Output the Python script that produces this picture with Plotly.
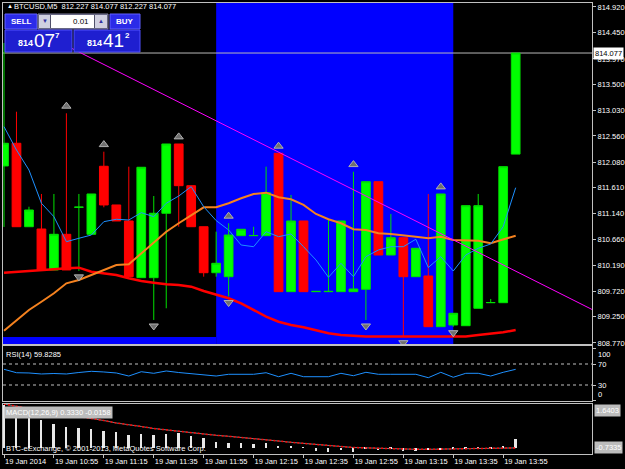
import plotly.graph_objects as go

W, H = 625, 469
FONT = "Liberation Sans"
FS = 7.5

# ---------------- data ----------------
bars = list(range(42))
opens = [812.010, 812.425, 810.898, 810.856, 810.106, 810.759, 811.253, 810.759, 812.004, 811.296,
         811.003, 809.965, 809.965, 811.144, 812.412, 811.649, 810.898, 810.056, 809.983, 810.734,
         810.734, 810.734, 812.242, 809.709, 811.003, 809.709, 809.709, 809.709, 809.709, 809.753,
         811.722, 810.380, 810.697, 809.983, 809.996, 809.068, 809.099, 809.086, 809.405, 809.507,
         809.507, 812.227]
highs = [814.261, 813.003, 811.264, 811.497, 811.497, 812.974, 811.497, 811.497, 812.271, 811.296,
         811.997, 811.986, 811.460, 812.412, 812.412, 811.649, 810.898, 810.807, 810.961, 810.851,
         810.898, 811.997, 812.242, 811.479, 811.003, 809.716, 811.021, 811.003, 811.905, 811.722,
         811.722, 811.131, 810.697, 810.503, 811.497, 811.497, 809.313, 811.283, 811.497, 809.575,
         811.997, 814.077]
lows = [810.893, 810.898, 810.898, 810.106, 810.106, 810.106, 810.090, 810.759, 811.253, 811.003,
        809.983, 809.965, 809.191, 809.405, 810.898, 810.898, 809.983, 809.983, 809.620, 810.734,
        810.734, 810.734, 809.709, 809.709, 809.709, 809.709, 809.709, 809.709, 809.709, 809.191,
        810.380, 810.380, 808.885, 809.983, 809.068, 809.068, 809.068, 809.086, 809.405, 809.507,
        809.507, 812.227]
closes = [812.425, 810.898, 811.204, 810.106, 810.759, 810.106, 811.256, 811.497, 811.296, 811.003,
          809.983, 811.986, 811.144, 812.412, 811.649, 810.898, 810.056, 810.228, 810.746, 810.851,
          810.737, 811.521, 809.709, 811.003, 809.709, 809.714, 809.714, 811.003, 809.758, 811.722,
          810.380, 810.697, 809.983, 810.503, 809.068, 811.497, 809.313, 811.283, 811.283, 809.510,
          811.997, 814.077]

ma_fast = [812.729, 812.302, 811.936, 811.327, 811.081, 810.624, 810.686, 810.746, 810.990, 811.034,
           811.021, 811.155, 811.081, 811.327, 811.460, 811.631, 811.264, 811.010, 810.838, 810.563,
           810.532, 810.807, 810.715, 810.765, 810.532, 810.289, 809.972, 810.228, 809.983, 810.349,
           810.472, 810.532, 810.532, 810.668, 810.152, 810.349, 810.087, 810.380, 810.503, 810.582,
           810.898, 811.612]
ma_mid = [808.995, 809.190, 809.374, 809.525, 809.679, 809.862, 809.923, 810.014, 810.106, 810.197,
          810.210, 810.411, 810.595, 810.807, 810.961, 811.113, 811.253, 811.253, 811.327, 811.418,
          811.497, 811.521, 811.437, 811.400, 811.296, 811.131, 811.034, 810.961, 810.851, 810.838,
          810.778, 810.765, 810.734, 810.715, 810.686, 810.715, 810.655, 810.655, 810.642, 810.595,
          810.668, 810.734]
ma_slow = [810.056, 810.069, 810.087, 810.106, 810.119, 810.137, 810.148, 810.075, 810.045, 810.014,
           809.954, 809.904, 809.873, 809.844, 809.831, 809.800, 809.721, 809.648, 809.588, 809.496,
           809.374, 809.251, 809.159, 809.099, 809.057, 809.007, 808.947, 808.916, 808.898, 808.889,
           808.889, 808.889, 808.889, 808.889, 808.889, 808.889, 808.889, 808.889, 808.916, 808.934,
           808.965, 809.007]

rsi = [59.9, 53.4, 52.9, 51.0, 51.9, 51.0, 53.8, 56.1, 54.8, 52.9,
       47.1, 55.3, 52.3, 56.7, 53.8, 51.9, 49.0, 47.1, 50.4, 50.4,
       50.4, 53.4, 45.8, 52.3, 45.8, 45.8, 45.8, 52.3, 47.7, 54.2,
       50.4, 50.4, 50.4, 50.4, 43.9, 54.2, 44.7, 52.3, 52.3, 47.1,
       54.2, 59.83]
rsi_levels = [70, 30]

macd_hist = [1.60, 1.48, 1.42, 1.04, 0.89, 0.77, 0.74, 0.70, 0.62, 0.58,
             0.47, 0.51, 0.47, 0.51, 0.55, 0.43, 0.35, 0.22, 0.17, 0.17,
             0.13, 0.17, 0.06, 0.07, -0.01, -0.12, -0.17, -0.09, -0.17, -0.05,
             -0.10, -0.06, -0.12, -0.15, -0.08, -0.10, -0.04, -0.06, -0.02, -0.04,
             0.02, 0.333]
macd_signal = [1.642, 1.547, 1.472, 1.396, 1.321, 1.253, 1.189, 1.113, 1.019, 0.925,
               0.868, 0.792, 0.717, 0.660, 0.604, 0.547, 0.509, 0.460, 0.423, 0.385,
               0.340, 0.294, 0.245, 0.196, 0.151, 0.113, 0.075, 0.038, 0.000, -0.019,
               -0.030, -0.045, -0.057, -0.068, -0.068, -0.057, -0.049, -0.038, -0.030, -0.019,
               -0.011, -0.0158]

price_tick_labels = ["814.920", "814.450", "813.970", "813.500", "813.030", "812.560", "812.080",
                     "811.610", "811.140", "810.660", "810.190", "809.720", "809.250", "808.770"]
price_tick_values = [float(t) for t in price_tick_labels]
time_tick_bars = [0, 4, 8, 12, 16, 20, 24, 28, 32, 36, 40]
time_tick_labels = ["19 Jan 2014", "19 Jan 10:55", "19 Jan 11:15", "19 Jan 11:35", "19 Jan 11:55",
                    "19 Jan 12:15", "19 Jan 12:35", "19 Jan 12:55", "19 Jan 13:15", "19 Jan 13:35",
                    "19 Jan 13:55"]

up_fractals = [5, 8, 14, 18, 22, 28, 35]
down_fractals = [6, 12, 18, 29, 32, 36]

trend_x = [3, 47.3]
trend_y = [814.441, 809.362]
bid_price = 814.077
highlight_bars = [17, 36]
zone_top = 808.88

# ---------------- geometry ----------------
X_RANGE = [-0.08, 47.116]
MAIN_RANGE = [808.751, 815.002]
RSI_RANGE = [-0.48, 104.3]
MACD_RANGE = [-0.2453, 1.6415]

def py(p):
    return 1 - p / H

def pxx(p):
    return p / W

GRID = "#c0c0c0"

fig = go.Figure()

fig.add_trace(go.Candlestick(
    x=bars, open=opens, high=highs, low=lows, close=closes,
    increasing=dict(fillcolor="#00ff00", line=dict(color="#00e000", width=1)),
    decreasing=dict(fillcolor="#ff0000", line=dict(color="#ff0000", width=1)),
    whiskerwidth=0, xaxis="x", yaxis="y", showlegend=False, hoverinfo="skip"))

fig.add_trace(go.Scatter(x=bars, y=ma_slow, mode="lines", line=dict(color="#ff0000", width=2.5),
                         xaxis="x", yaxis="y", showlegend=False, hoverinfo="skip"))
fig.add_trace(go.Scatter(x=bars, y=ma_mid, mode="lines", line=dict(color="#f5821f", width=2),
                         xaxis="x", yaxis="y", showlegend=False, hoverinfo="skip"))
fig.add_trace(go.Scatter(x=bars, y=ma_fast, mode="lines", line=dict(color="#1e90ff", width=1),
                         xaxis="x", yaxis="y", showlegend=False, hoverinfo="skip"))
fig.add_trace(go.Scatter(x=trend_x, y=trend_y, mode="lines", line=dict(color="#ff00ff", width=1),
                         xaxis="x", yaxis="y", showlegend=False, hoverinfo="skip"))

fig.add_trace(go.Scatter(
    x=up_fractals, y=[highs[i] + 0.13 for i in up_fractals], mode="markers",
    marker=dict(symbol="triangle-up", size=8, color="#707070", line=dict(color="#b0b0b0", width=1)),
    xaxis="x", yaxis="y", showlegend=False, hoverinfo="skip"))
fig.add_trace(go.Scatter(
    x=down_fractals, y=[lows[i] - 0.11 for i in down_fractals], mode="markers",
    marker=dict(symbol="triangle-down", size=8, color="#707070", line=dict(color="#b0b0b0", width=1)),
    xaxis="x", yaxis="y", showlegend=False, hoverinfo="skip"))

# RSI
fig.add_trace(go.Scatter(x=bars, y=rsi, mode="lines", line=dict(color="#1e90ff", width=1),
                         xaxis="x2", yaxis="y2", showlegend=False, hoverinfo="skip"))

# MACD
fig.add_trace(go.Bar(x=bars, y=macd_hist, width=0.15, marker=dict(color="#e8e8e8", line=dict(width=0)),
                     xaxis="x3", yaxis="y3", showlegend=False, hoverinfo="skip"))
fig.add_trace(go.Scatter(x=bars, y=macd_signal, mode="lines", line=dict(color="#ffffff", width=1),
                         opacity=0.5, xaxis="x3", yaxis="y3", showlegend=False, hoverinfo="skip"))
fig.add_trace(go.Scatter(x=bars, y=macd_signal, mode="lines", line=dict(color="#ff0000", width=1.5, dash="2px,2px"),
                         xaxis="x3", yaxis="y3", showlegend=False, hoverinfo="skip"))

xd = [pxx(3), pxx(592)]
base_x = dict(range=X_RANGE, domain=xd, showgrid=False, zeroline=False, showline=True, mirror=True,
              linecolor=GRID, linewidth=1, fixedrange=True, automargin=False, tickangle=0)
base_y = dict(showgrid=False, zeroline=False, showline=True, mirror=True, linecolor=GRID,
              linewidth=1, side="right", fixedrange=True, automargin=False)

shapes = []
shapes.append(dict(type="rect", xref="x", yref="y domain", x0=highlight_bars[0], x1=highlight_bars[1],
                   y0=0, y1=1, fillcolor="#0000ff", line=dict(width=0), layer="below"))
shapes.append(dict(type="rect", xref="x", yref="y", x0=X_RANGE[0], x1=highlight_bars[0],
                   y0=MAIN_RANGE[0], y1=zone_top, fillcolor="#0000ff", line=dict(width=0), layer="below"))
shapes.append(dict(type="line", xref="x domain", yref="y", x0=0, x1=1, y0=bid_price, y1=bid_price,
                   line=dict(color="#b8b8b8", width=1), layer="below"))
for lv in rsi_levels:
    shapes.append(dict(type="line", xref="x2 domain", yref="y2", x0=0, x1=1, y0=lv, y1=lv,
                       line=dict(color="#c0c0c0", width=1, dash="dot")))

def rect(x0, y0, x1, y1, fill, lc=None, lw=0):
    return dict(type="rect", xref="paper", yref="paper", x0=pxx(x0), x1=pxx(x1), y0=py(y1), y1=py(y0),
                fillcolor=fill, line=dict(color=lc or fill, width=lw), layer="above")

# one-click trading panel
shapes += [
    rect(5, 14, 37, 29, "#2b2be8", "#6060ff", 1),
    rect(38, 14, 108, 29, "#50506a", "#8080a0", 1),
    rect(39, 15, 50, 28, "#d0d0e0"),
    rect(51, 15, 94, 28, "#ffffff"),
    rect(95, 15, 107, 28, "#d0d0e0"),
    rect(110, 14, 140, 29, "#2b2be8", "#6060ff", 1),
    rect(5, 30, 72, 52, "#1f1fd0", "#5050ff", 1),
    rect(74, 30, 140, 52, "#1f1fd0", "#5050ff", 1),
]

annotations = []

def ann(x, y, text, size=FS, color="#ffffff", xanchor="left", yanchor="middle", bg=None, xref="paper",
        yref="paper", bold=False):
    d = dict(x=x, y=y, xref=xref, yref=yref, text=("<b>%s</b>" % text) if bold else text,
             showarrow=False, xanchor=xanchor, yanchor=yanchor,
             font=dict(family=FONT, size=size, color=color), borderpad=1)
    if bg:
        d["bgcolor"] = bg
    return d

annotations += [
    ann(pxx(5), py(6.5), "▲", size=6),
    ann(pxx(12), py(6.5), "BTCUSD,M5  812.227 814.077 812.227 814.077"),
    ann(pxx(21), py(21.5), "SELL", size=8, xanchor="center", bold=True),
    ann(pxx(125), py(21.5), "BUY", size=8, xanchor="center", bold=True),
    ann(pxx(44.5), py(21.5), "▼", size=6, color="#3030a0", xanchor="center"),
    ann(pxx(101), py(21.5), "▲", size=6, color="#3030a0", xanchor="center"),
    ann(pxx(91), py(21.5), "0.01", size=8, color="#000000", xanchor="right"),
    ann(pxx(16), py(43), "814", size=9, bold=True),
    ann(pxx(32), py(41), "07", size=19),
    ann(pxx(53), py(35), "7", size=8, bold=True),
    ann(pxx(85), py(43), "814", size=9, bold=True),
    ann(pxx(101), py(41), "41", size=19),
    ann(pxx(123), py(35), "2", size=8, bold=True),
    ann(pxx(593), bid_price, "814.077", color="#000000", bg="#ffffff", yref="y"),
    ann(pxx(4), py(354), "RSI(14) 59.8285"),
    ann(pxx(596), 100, "100", yref="y2", yanchor="top"),
    ann(pxx(596), 70, "70", yref="y2"),
    ann(pxx(596), 30, "30", yref="y2"),
    ann(pxx(596), 0, "0", yref="y2", yanchor="bottom"),
    ann(pxx(4), py(406), "MACD(12,26,9) 0.3330 -0.0158", bg="#bcbcbc", yanchor="top"),
    ann(pxx(594), MACD_RANGE[1], "1.6403", bg="#bcbcbc", yref="y3", yanchor="top"),
    ann(pxx(594), MACD_RANGE[0], "-0.7335", bg="#bcbcbc", yref="y3", yanchor="bottom"),
    ann(pxx(4), py(448.5), "BTC-eExchange, © 2001-2013, MetaQuotes Software Corp."),
]

fig.update_layout(
    width=W, height=H, margin=dict(l=0, r=0, t=0, b=0, autoexpand=False),
    paper_bgcolor="#000000", plot_bgcolor="#000000",
    font=dict(family=FONT, size=FS, color="#ffffff"),
    showlegend=False, bargap=0, boxgap=0.3, boxgroupgap=0,
    xaxis=dict(base_x, anchor="y", showticklabels=False, ticks="", rangeslider=dict(visible=False)),
    xaxis2=dict(base_x, anchor="y2", showticklabels=False, ticks=""),
    xaxis3=dict(base_x, anchor="y3", tickmode="array", tickvals=time_tick_bars, ticktext=time_tick_labels,
                ticks="outside", ticklen=3, tickcolor=GRID, ticklabelposition="outside right",
                tickfont=dict(family=FONT, size=FS, color="#ffffff")),
    yaxis=dict(base_y, anchor="x", domain=[py(344), py(2.5)], range=MAIN_RANGE,
               tickmode="array", tickvals=price_tick_values, ticktext=price_tick_labels,
               ticks="outside", ticklen=3, tickcolor=GRID,
               tickfont=dict(family=FONT, size=FS, color="#ffffff")),
    yaxis2=dict(base_y, anchor="x2", domain=[py(401), py(346)], range=RSI_RANGE,
                tickmode="array", tickvals=[0, 30, 70, 100], showticklabels=False,
                ticks="outside", ticklen=3, tickcolor=GRID),
    yaxis3=dict(base_y, anchor="x3", domain=[py(454), py(404)], range=MACD_RANGE,
                showticklabels=False, ticks=""),
    shapes=shapes, annotations=annotations,
)

fig.write_html("out.html")
